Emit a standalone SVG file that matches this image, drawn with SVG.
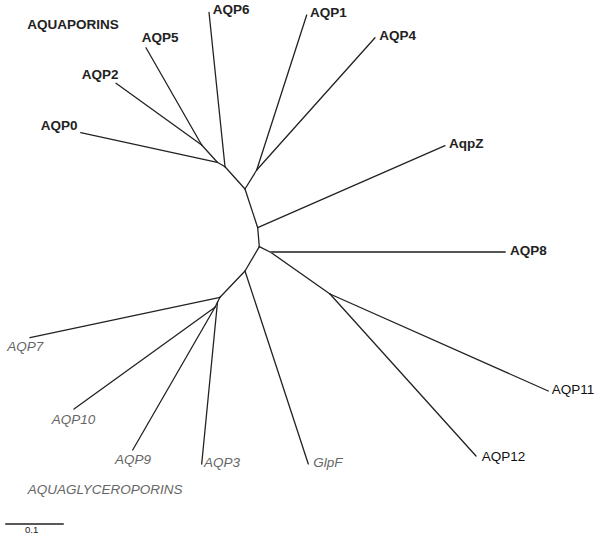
<svg xmlns="http://www.w3.org/2000/svg" width="600" height="538" viewBox="0 0 600 538">
<style>
.e{stroke:#222;stroke-width:1.3;fill:none;stroke-linecap:round}
.g{stroke:#555;stroke-width:1.8}
text{font-family:"Liberation Sans",Arial,sans-serif;font-size:13.5px}
.b{font-weight:bold;fill:#222}
.r{fill:#111}
.i{font-style:italic;fill:#666}
</style>
<rect width="600" height="538" fill="#fff"/>
<g id="connectors">
<line class="e" x1="80.7" y1="132.7" x2="217.3" y2="162.3"/>
<line class="e" x1="116" y1="83.3" x2="201.7" y2="145"/>
<line class="e" x1="146" y1="47.7" x2="201.7" y2="145"/>
<line class="e" x1="201.7" y1="145" x2="217.3" y2="162.3"/>
<line class="e" x1="217.3" y1="162.3" x2="225" y2="166.7"/>
<line class="e" x1="209" y1="12.3" x2="225" y2="166.7"/>
<line class="e" x1="225" y1="166.7" x2="245" y2="189"/>
<line class="e" x1="306.7" y1="15" x2="256.7" y2="170"/>
<line class="e" x1="375" y1="37.7" x2="256.7" y2="170"/>
<line class="e" x1="256.7" y1="170" x2="245" y2="189"/>
<line class="e" x1="245" y1="189" x2="257.7" y2="227.7"/>
<line class="e" x1="445" y1="145.7" x2="257.7" y2="227.7"/>
<line class="e" x1="257.7" y1="227.7" x2="259.3" y2="246.7"/>
<polyline class="e" points="259.3,246.7 271,252.5 330,294"/>
<line class="e g" x1="271" y1="252" x2="505" y2="252"/>
<line class="e" x1="330" y1="294" x2="548.3" y2="391"/>
<line class="e" x1="330" y1="294" x2="476" y2="456"/>
<line class="e" x1="259.3" y1="246.7" x2="245" y2="271"/>
<line class="e" x1="245" y1="271" x2="308.3" y2="464"/>
<line class="e" x1="245" y1="271" x2="220" y2="297.3"/>
<line class="e" x1="30" y1="337.7" x2="220" y2="297.3"/>
<line class="e" x1="220" y1="297.3" x2="215" y2="307.3"/>
<line class="e" x1="74" y1="409" x2="215" y2="307.3"/>
<line class="e" x1="132.7" y1="450" x2="215" y2="307.3"/>
<line class="e" x1="201.7" y1="464" x2="217.5" y2="302"/>
</g>
<g id="AQUAPORINS"><text class="b" x="27.3" y="28.5">AQUAPORINS</text></g>
<g id="AQP6"><text class="b" x="212.7" y="14">AQP6</text></g>
<g id="AQP5"><text class="b" x="141.7" y="41.7">AQP5</text></g>
<g id="AQP2"><text class="b" x="81.7" y="79">AQP2</text></g>
<g id="AQP0"><text class="b" x="40.7" y="130">AQP0</text></g>
<g id="AQP1"><text class="b" x="310" y="17.3">AQP1</text></g>
<g id="AQP4"><text class="b" x="379.3" y="40">AQP4</text></g>
<g id="AqpZ"><text class="b" x="449" y="148.3">AqpZ</text></g>
<g id="AQP8"><text class="b" x="510" y="254.5">AQP8</text></g>
<g id="AQP11"><text class="r" x="551.7" y="394.3">AQP11</text></g>
<g id="AQP12"><text class="r" x="481.7" y="461">AQP12</text></g>
<g id="GlpF"><text class="i" x="313.3" y="466.7">GlpF</text></g>
<g id="AQP3"><text class="i" x="204" y="466.7">AQP3</text></g>
<g id="AQP9"><text class="i" x="115" y="464.3">AQP9</text></g>
<g id="AQP10"><text class="i" x="51.7" y="424.3">AQP10</text></g>
<g id="AQP7"><text class="i" x="7.3" y="350.7">AQP7</text></g>
<g id="AQUAGLYCEROPORINS"><text class="i" x="27.7" y="494.3">AQUAGLYCEROPORINS</text></g>
<g id="scale">
<line class="e" x1="5.7" y1="524" x2="63.3" y2="524" stroke-linecap="butt"/>
<text x="25" y="532.5" style="font-size:9.6px;fill:#222">0.1</text>
</g>
</svg>
